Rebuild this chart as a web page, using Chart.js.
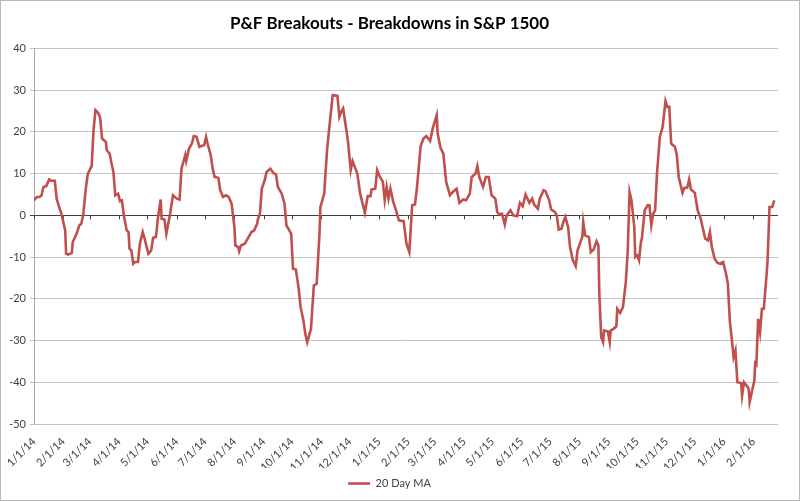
<!DOCTYPE html>
<html>
<head>
<meta charset="utf-8">
<script src="https://cdn.jsdelivr.net/npm/chart.js@4.4.1/dist/chart.umd.min.js"></script>
<style>
  html, body { margin: 0; padding: 0; background: #fff; }
  #wrap { width: 800px; height: 501px; box-sizing: border-box; border: 1px solid #b8b8b8; }
</style>
</head>
<body>
<div id="wrap"><canvas id="chart-line" width="798" height="499"></canvas></div>
<script>
// month tick labels on the date axis
const monthLabels = ['1/1/14', '2/1/14', '3/1/14', '4/1/14', '5/1/14', '6/1/14', '7/1/14', '8/1/14',
    '9/1/14', '10/1/14', '11/1/14', '12/1/14', '1/1/15', '2/1/15', '3/1/15', '4/1/15', '5/1/15',
    '6/1/15', '7/1/15', '8/1/15', '9/1/15', '10/1/15', '11/1/15', '12/1/15', '1/1/16', '2/1/16'];

// days since 1/1/14
const days = [0, 3, 6, 8, 10, 13, 16, 18, 22, 24, 26, 29, 33, 34, 36, 40, 41, 45, 48, 50, 52,
    55, 57, 61, 63, 65, 68, 70, 72, 76, 77, 80, 82, 84, 86, 89, 91, 93, 95, 98, 100, 101, 103,
    105, 107, 110, 112, 115, 117, 121, 124, 126, 129, 131, 134, 135, 138, 140, 144, 147, 151,
    154, 156, 160, 161, 164, 167, 169, 172, 175, 177, 180, 182, 184, 187, 189, 191, 195, 197,
    200, 203, 206, 209, 212, 213, 216, 217, 219, 223, 227, 230, 233, 236, 237, 239, 241, 244,
    246, 250, 253, 256, 258, 262, 265, 267, 269, 272, 274, 277, 280, 282, 285, 287, 289, 290,
    293, 296, 299, 302, 303, 304, 307, 310, 313, 316, 321, 323, 325, 327, 332, 335, 337, 340,
    342, 345, 350, 353, 356, 357, 361, 363, 366, 369, 371, 373, 375, 377, 380, 383, 386, 391,
    394, 397, 400, 403, 405, 409, 412, 415, 419, 422, 426, 427, 430, 433, 436, 440, 443, 447,
    450, 454, 457, 461, 463, 467, 469, 471, 475, 478, 481, 484, 488, 490, 492, 495, 498, 500,
    504, 507, 511, 514, 517, 520, 524, 527, 529, 533, 535, 539, 541, 545, 547, 551, 553, 555,
    558, 560, 562, 565, 567, 570, 573, 575, 578, 580, 581, 583, 587, 589, 592, 595, 597, 598,
    600, 602, 603, 607, 609, 610, 613, 616, 617, 620, 623, 626, 628, 630, 632, 635, 636, 638,
    640, 642, 643, 646, 649, 651, 653, 655, 657, 659, 662, 665, 668, 670, 672, 674, 678, 680,
    682, 686, 688, 691, 693, 695, 699, 702, 705, 708, 710, 713, 715, 717, 720, 723, 726, 729,
    732, 734, 736, 739, 740, 742, 744, 748, 749, 751, 755, 756, 757, 760, 762, 763, 764, 766,
    768, 770, 772, 775, 776, 778, 781, 783];

// 20 Day MA
const ma20 = [3.6, 4.4, 4.4, 4.8, 6.8, 7, 8.6, 8.3, 8.3, 4, 2.4, 0.4, -3.6, -9.2, -9.4, -9, -6.4,
    -4.4, -2.4, -2, 0, 6.8, 10, 11.8, 20.4, 25.2, 24.5, 23.3, 18.4, 17.6, 15.6, 14.8, 12.4, 10.4,
    4.8, 5.2, 3.4, 3.6, 0, -3.6, -4, -8, -8.4, -11.6, -11.2, -11.2, -6.8, -4, -5.6, -9.2, -8.4,
    -5.4, -5.2, -0.8, 3.8, -0.8, -1, -4.4, 0.4, 4.8, 4, 3.8, 11.2, 14.4, 13, 16, 17.2, 19, 18.8,
    16.4, 16.6, 16.8, 18.8, 16.8, 14.4, 11.2, 9.2, 9, 6, 4.4, 4.8, 4.4, 2.8, -2.8, -7.2, -7.6,
    -8.6, -7.2, -6.8, -5.2, -4, -3.6, -2, -0.8, 0.4, 6.4, 8.4, 10.4, 11.2, 10.2, 9.8, 6.8, 5.2,
    2.8, -2.4, -3.2, -4.4, -12.8, -13, -17.6, -22, -25.2, -28.4, -30.4, -29.6, -27.2, -16.8,
    -16.4, -4.4, 2, 2.8, 5.2, 15.6, 22.4, 28.8, 28.6, 23.6, 24.8, 25.6, 18, 10.8, 13, 11.2, 10,
    5.2, 0.6, 4.6, 4.6, 6.2, 6.4, 10.8, 9.2, 8, 3.6, 6.8, 4, 6.4, 3.2, 1.2, -1.2, -1.4, -6.8,
    -8.8, 2.4, 2.6, 6.4, 16.6, 18.4, 19, 17.8, 21, 24, 19.6, 16.2, 14.8, 8, 4.8, 5.6, 6.4, 3,
    3.8, 3.6, 5.2, 9.2, 10, 11.8, 9.2, 6.8, 9.2, 9.2, 4.8, 4, 0.8, 0.2, 0.4, -2.2, 0, 1.2, 0,
    -0.2, 3, 2.2, 5, 3, 4, 2.6, 1.6, 4, 6, 5.8, 3.6, 1.4, 0.8, 0, -3.4, -3.2, -1.6, -0.4, -2.8,
    -7.6, -10.8, -12.2, -8.4, -6.4, -5.2, -1.6, -4.8, -5.2, -8.8, -8.2, -6.2, -7.2, -18.8, -29.2,
    -30.4, -27.6, -27.8, -30.4, -27.6, -27.2, -26.6, -22.4, -23.4, -22, -16, -8.8, 5.6, 3.6,
    -2.8, -10, -9.6, -10.8, -6.4, -5.6, 1.2, 2.4, 2.4, -2.4, 0.4, 1.2, 10, 18.8, 21.2, 27.4, 26,
    26, 17.2, 16.4, 14.4, 9.2, 5.4, 6.6, 6.6, 8.6, 6.2, 5.4, 1.2, -0.6, -3.6, -5.6, -6, -4, -7.6,
    -10.4, -11.4, -11.6, -11.2, -14, -16.4, -25.2, -31.6, -34, -32.4, -40, -40.2, -43.2, -40,
    -41.2, -41.6, -44.8, -41.6, -39.6, -34.8, -36.4, -24.8, -28, -22.4, -22.4, -14, -10.8, 2, 2,
    3.6];

const axisEnd = 787;

// tick positions: day offset of each label's date
const start = Date.UTC(2014, 0, 1);
const tickDays = monthLabels.map(s => {
    const p = s.split('/');
    return Math.round((Date.UTC(2000 + Number(p[2]), Number(p[0]) - 1, Number(p[1])) - start) / 86400000);
});

// small tick marks on the zero line, like the excel axis
const zeroTicks = {
    id: 'zeroTicks',
    beforeDatasetsDraw(chart) {
        const x = chart.scales.x, y = chart.scales.y;
        const y0 = y.getPixelForValue(0);
        const ctx = chart.ctx;
        ctx.save();
        ctx.strokeStyle = '#404040';
        ctx.lineWidth = 1;
        ctx.beginPath();
        tickDays.forEach(d => {
            const px = Math.round(x.getPixelForValue(d)) + 0.5;
            ctx.moveTo(px, y0);
            ctx.lineTo(px, y0 + 4);
        });
        ctx.stroke();
        ctx.restore();
    }
};

Chart.defaults.font.family = 'Lato, "Open Sans", sans-serif';
Chart.defaults.color = '#404040';

const data = {
    datasets: [{
        label: '20 Day MA',
        data: days.map((d, i) => ({ x: d, y: ma20[i] })),
        borderColor: '#C0504D',
        backgroundColor: '#C0504D',
        borderWidth: 2.6,
        pointRadius: 0,
        tension: 0
    }]
};

const config = {
    type: 'line',
    data,
    options: {
        responsive: false,
        animation: false,
        layout: { padding: { left: 0, right: 21, top: 0, bottom: 1 } },
        plugins: {
            title: {
                display: true,
                text: 'P&F Breakouts - Breakdowns in S&P 1500',
                color: '#000',
                font: { size: 17, weight: 'bold' },
                padding: { top: 12, bottom: 15 }
            },
            legend: {
                position: 'bottom',
                labels: {
                    usePointStyle: true,
                    pointStyle: 'line',
                    pointStyleWidth: 22,
                    font: { size: 11 },
                    padding: 10
                }
            },
            tooltip: { enabled: false }
        },
        scales: {
            x: {
                type: 'linear',
                min: 0,
                max: axisEnd,
                afterBuildTicks: scale => {
                    scale.ticks = tickDays.map(v => ({ value: v }));
                },
                afterFit: scale => { scale.height = 44; },
                ticks: {
                    autoSkip: false,
                    minRotation: 45,
                    maxRotation: 45,
                    padding: 3,
                    font: { size: 11 },
                    callback: (value, index) => monthLabels[index]
                },
                grid: { display: false },
                border: { display: false }
            },
            y: {
                min: -50,
                max: 40,
                afterFit: scale => { scale.width = 33; },
                ticks: { stepSize: 10, padding: 4, font: { size: 11 } },
                grid: {
                    color: ctx => ctx.tick.value === 0 ? '#404040' : '#c4c4c4',
                    lineWidth: 1,
                    tickLength: 4
                },
                border: { display: true, color: '#a6a6a6' }
            }
        }
    },
    plugins: [zeroTicks]
};

const myChart = new Chart(
    document.getElementById('chart-line'),
    config
);
</script>
</body>
</html>
